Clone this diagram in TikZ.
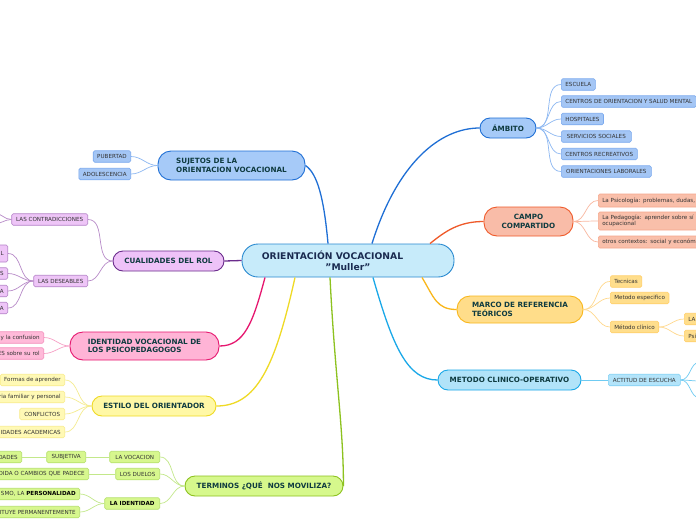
\documentclass[tikz,border=0pt]{standalone}
\usepackage{fontspec}
\setmainfont{DejaVu Sans}
\definecolor{centfill}{HTML}{C7EBFA}
\definecolor{centdraw}{HTML}{2A8AD0}
\definecolor{centtext}{HTML}{1A2B50}
\definecolor{maintext}{HTML}{0F3B40}
\definecolor{leaftext}{HTML}{333333}
\definecolor{bluefill}{HTML}{A6CAF8}
\definecolor{bluedraw}{HTML}{1F6FD5}
\definecolor{blueleaf}{HTML}{A4C6F5}
\definecolor{blueleafd}{HTML}{7AA9EE}
\definecolor{bluelink}{HTML}{8DB8F2}
\definecolor{orfill}{HTML}{F9BCA8}
\definecolor{ordraw}{HTML}{EF5A2A}
\definecolor{orleaf}{HTML}{F9BFAA}
\definecolor{orleafd}{HTML}{F6A78C}
\definecolor{orlink}{HTML}{F9B8A0}
\definecolor{yefill}{HTML}{FFDD8A}
\definecolor{yedraw}{HTML}{F9B71C}
\definecolor{yeleaf}{HTML}{FFDE8C}
\definecolor{yeleafd}{HTML}{FFCF6A}
\definecolor{yelink}{HTML}{FFD98E}
\definecolor{cyfill}{HTML}{B1E3F9}
\definecolor{cydraw}{HTML}{1AA8E8}
\definecolor{cyleaf}{HTML}{B3E4FA}
\definecolor{cyleafd}{HTML}{7FD0F4}
\definecolor{cylink}{HTML}{6FCBF2}
\definecolor{pufill}{HTML}{EEC2F8}
\definecolor{pudraw}{HTML}{6B2C8C}
\definecolor{puleaf}{HTML}{EEC5F7}
\definecolor{puleafd}{HTML}{B582C8}
\definecolor{pulink}{HTML}{B88BC8}
\definecolor{pkfill}{HTML}{FFB4D6}
\definecolor{pkdraw}{HTML}{E6176F}
\definecolor{pkleaf}{HTML}{FFBAD9}
\definecolor{pkleafd}{HTML}{F48DBB}
\definecolor{pklink}{HTML}{F7A0C6}
\definecolor{ylfill}{HTML}{FFF8A6}
\definecolor{yldraw}{HTML}{EFDA25}
\definecolor{ylleaf}{HTML}{FFF9B5}
\definecolor{ylleafd}{HTML}{F8EC8E}
\definecolor{yllink}{HTML}{F5EC90}
\definecolor{grfill}{HTML}{D6F88C}
\definecolor{grdraw}{HTML}{8DC21F}
\definecolor{grleaf}{HTML}{D7F78E}
\definecolor{grleafd}{HTML}{B5E06A}
\definecolor{grlink}{HTML}{C3E88A}
\begin{document}
\begin{tikzpicture}[x=1pt,y=-1pt,
  mainbox/.style={draw, line width=0.9pt, inner sep=0pt, font=\bfseries\fontsize{7.2}{8.6}\selectfont, text=maintext, align=left},
  leaf/.style={draw, line width=0.6pt, rounded corners=1.5pt, inner xsep=4pt, inner ysep=0pt, minimum height=11.5pt, font=\fontsize{5.6}{6.6}\selectfont, text=leaftext},
  leftcut/.style={text width=#1, align=right},
  rightcut/.style={text width=#1, align=left},
  mlink/.style={line width=1.3pt},
  clink/.style={line width=0.7pt},
  bleaf/.style={leaf, fill=blueleaf, draw=blueleafd},
  oleaf/.style={leaf, fill=orleaf, draw=orleafd},
  yleaf/.style={leaf, fill=yeleaf, draw=yeleafd},
  cleaf/.style={leaf, fill=cyleaf, draw=cyleafd},
  pleaf/.style={leaf, fill=puleaf, draw=puleafd},
  kleaf/.style={leaf, fill=pkleaf, draw=pkleafd},
  lleaf/.style={leaf, fill=ylleaf, draw=ylleafd},
  gleaf/.style={leaf, fill=grleaf, draw=grleafd}
]
\useasboundingbox[fill=white] (0,0) rectangle (696,520);

% central
\node[mainbox, fill=centfill, draw=centdraw, minimum width=212pt, minimum height=33pt, rounded corners=16pt, font=\bfseries\fontsize{9.2}{10.6}\selectfont, text=centtext, align=center] (c) at (348,260.5) {ORIENTACIÓN VOCACIONAL\hspace*{31pt}\\\symbol{34}Muller\symbol{34}};

% main nodes
\node[mainbox, fill=bluefill, draw=bluedraw, minimum width=56pt, minimum height=20pt, rounded corners=10pt] (amb) at (508,128) {ÁMBITO};
\node[mainbox, fill=bluefill, draw=bluedraw, minimum width=147pt, minimum height=29pt, rounded corners=13pt] (suj) at (231.5,165.5) {SUJETOS DE LA\\ORIENTACION VOCACIONAL};
\node[mainbox, fill=orfill, draw=ordraw, minimum width=89pt, minimum height=29pt, rounded corners=13pt, align=center] (cam) at (528.5,221.5) {CAMPO\\COMPARTIDO};
\node[mainbox, fill=yefill, draw=yedraw, minimum width=126pt, minimum height=27pt, rounded corners=13pt] (mar) at (520,309.5) {MARCO DE REFERENCIA\\TEÓRICOS};
\node[mainbox, fill=cyfill, draw=cydraw, minimum width=143pt, minimum height=20pt, rounded corners=10pt] (met) at (509.5,380) {METODO CLINICO-OPERATIVO};
\node[mainbox, fill=pufill, draw=pudraw, minimum width=111pt, minimum height=20pt, rounded corners=10pt] (cua) at (168.5,261) {CUALIDADES DEL ROL};
\node[mainbox, fill=pkfill, draw=pkdraw, minimum width=149pt, minimum height=28pt, rounded corners=13pt] (ide) at (144.5,346) {IDENTIDAD VOCACIONAL DE\\LOS PSICOPEDAGOGOS};
\node[mainbox, fill=ylfill, draw=yldraw, minimum width=124pt, minimum height=20pt, rounded corners=10pt] (est) at (154,406) {ESTILO DEL ORIENTADOR};
\node[mainbox, fill=grfill, draw=grdraw, minimum width=158pt, minimum height=20pt, rounded corners=10pt] (ter) at (264,486) {TERMINOS ¿QUÉ\ \ NOS MOVILIZA?};

% main links
\draw[mlink, bluedraw] ([xshift=24pt]c.north) .. controls +(25,-80) and +(-40,0) .. (amb.west);
\draw[mlink, bluedraw] ([xshift=-20pt]c.north) .. controls +(-4,-45) and +(12,8) .. (suj.east);
\draw[mlink, ordraw] ([xshift=82pt]c.north) .. controls +(15,-12) and +(-25,0) .. (cam.west);
\draw[mlink, yedraw] ([xshift=74pt]c.south) .. controls +(12,20) and +(-20,0) .. (mar.west);
\draw[mlink, cydraw] ([xshift=25pt]c.south) .. controls +(20,70) and +(-30,0) .. (met.west);
\draw[mlink, pudraw] (c.west) -- (cua.east);
\draw[mlink, pkdraw] ([xshift=-83pt]c.south) .. controls +(-12,45) and +(25,0) .. (ide.east);
\draw[mlink, yldraw] ([xshift=-53pt]c.south) .. controls +(-20,90) and +(40,0) .. (est.east);
\draw[mlink, grdraw] ([xshift=-18pt]c.south) .. controls +(5,100) and +(0,-60) .. (ter.east);

% AMBITO leaves
\node[bleaf, anchor=west, minimum width=34pt] (a1) at (561,84.5) {ESCUELA};
\node[bleaf, anchor=west, minimum width=135pt] (a2) at (561,101.5) {CENTROS DE ORIENTACION Y SALUD MENTAL};
\node[bleaf, anchor=west, minimum width=42pt] (a3) at (561,119) {HOSPITALES};
\node[bleaf, anchor=west, minimum width=70pt] (a4) at (561,136.5) {SERVICIOS SOCIALES};
\node[bleaf, anchor=west, minimum width=76pt] (a5) at (561,154) {CENTROS RECREATIVOS};
\node[bleaf, anchor=west, minimum width=90pt] (a6) at (561,171.5) {ORIENTACIONES LABORALES};
\foreach \n in {a1,a2,a3,a4,a5,a6}
  \draw[clink, bluelink] (amb.east) to[out=0,in=180] (\n.west);

% SUJETOS leaves
\node[bleaf, anchor=east, minimum width=37pt] (s1) at (131,156.5) {PUBERTAD};
\node[bleaf, anchor=east, minimum width=51pt] (s2) at (131,174) {ADOLESCENCIA};
\foreach \n in {s1,s2}
  \draw[clink, bluelink] (suj.west) to[out=180,in=0] (\n.east);

% CAMPO leaves
\node[oleaf, anchor=west, minimum height=13pt, rightcut=150pt] (o1) at (598,200.5) {La Psicología: problemas, dudas,};
\node[oleaf, anchor=west, minimum height=18pt, rightcut=150pt] (o2) at (598,221) {La Pedagogía: aprender sobre sí mismo\\ocupacional};
\node[oleaf, anchor=west, minimum height=12pt, rightcut=150pt] (o3) at (598,242) {otros contextos: social y económico};
\foreach \n in {o1,o2,o3}
  \draw[clink, orlink] (cam.east) to[out=0,in=180] (\n.west);

% MARCO leaves
\node[yleaf, anchor=west, minimum width=31pt] (m1) at (610,281.5) {Tecnicas};
\node[yleaf, anchor=west, minimum width=57pt] (m2) at (610,298) {Metodo especifico};
\node[yleaf, anchor=west, minimum width=47pt] (m3) at (610,327) {Método clínico};
\foreach \n in {m1,m2,m3}
  \draw[clink, yelink] (mar.east) to[out=0,in=180] (\n.west);
\node[yleaf, anchor=west, rightcut=30pt] (m4) at (684,319) {LA};
\node[yleaf, anchor=west, rightcut=30pt] (m5) at (684,336) {Psi};
\foreach \n in {m4,m5}
  \draw[clink, yelink] (m3.east) to[out=0,in=180] (\n.west);

% METODO leaves
\node[cleaf, anchor=west, minimum width=72pt] (k1) at (608,380) {ACTITUD DE ESCUCHA};
\draw[clink, cylink] (met.east) -- (k1.west);
\coordinate (k2) at (700,362);
\coordinate (k3) at (700,381);
\coordinate (k4) at (700,398);
\foreach \n in {k2,k3,k4}
  \draw[clink, cylink] (k1.east) to[out=0,in=180] (\n);

% CUALIDADES leaves
\node[pleaf, anchor=east, minimum width=76pt] (p1) at (88,219.5) {LAS CONTRADICCIONES};
\node[pleaf, anchor=east, minimum width=54pt] (p2) at (88,281) {LAS DESEABLES};
\foreach \n in {p1,p2}
  \draw[clink, pulink] (cua.west) to[out=180,in=0] (\n.east);
\coordinate (p1a) at (-6,213);
\coordinate (p1b) at (-6,224);
\foreach \n in {p1a,p1b}
  \draw[clink, pulink] (p1.west) to[out=180,in=0] (\n);
\node[pleaf, anchor=east, minimum height=17pt, leftcut=30pt] (p3) at (8,253.5) {L};
\node[pleaf, anchor=east, leftcut=30pt] (p4) at (8,273.5) {S};
\node[pleaf, anchor=east, leftcut=30pt] (p5) at (8,291) {A};
\node[pleaf, anchor=east, leftcut=30pt] (p6) at (8,308) {A};
\foreach \n in {p3,p4,p5,p6}
  \draw[clink, pulink] (p2.west) to[out=180,in=0] (\n.east);

% IDENTIDAD leaves
\node[kleaf, anchor=east, leftcut=60pt] (i1) at (44,337.5) {y la confusion};
\node[kleaf, anchor=east, leftcut=60pt] (i2) at (44,353.5) {ES sobre su rol};
\foreach \n in {i1,i2}
  \draw[clink, pklink] (ide.west) to[out=180,in=0] (\n.east);

% ESTILO leaves
\node[lleaf, anchor=east, minimum width=64pt] (e1) at (65,380) {Formas de aprender};
\node[lleaf, anchor=east, leftcut=80pt] (e2) at (65,397) {ria familiar y personal};
\node[lleaf, anchor=east, minimum width=45pt] (e3) at (65,414) {CONFLICTOS};
\node[lleaf, anchor=east, leftcut=80pt] (e4) at (65,432) {IDADES ACADEMICAS};
\foreach \n in {e1,e2,e3,e4}
  \draw[clink, yllink] (est.west) to[out=180,in=0] (\n.east);

% TERMINOS leaves
\node[gleaf, anchor=east, minimum width=50pt] (t1) at (160,457) {LA VOCACION};
\node[gleaf, anchor=east, minimum width=44pt] (t2) at (160,474) {LOS DUELOS};
\node[gleaf, anchor=east, minimum width=55pt, font=\bfseries\fontsize{5.6}{6.6}\selectfont, text=black] (t3) at (160,503.5) {LA IDENTIDAD};
\foreach \n in {t1,t2,t3}
  \draw[clink, grlink] (ter.west) to[out=180,in=0] (\n.east);
\node[gleaf, anchor=east, minimum width=39pt] (t4) at (86,457) {SUBJETIVA};
\node[gleaf, anchor=east, leftcut=40pt] (t5) at (22,457) {DADES};
\draw[clink, grlink] (t1.west) -- (t4.east);
\draw[clink, grlink] (t4.west) -- (t5.east);
\node[gleaf, anchor=east, leftcut=100pt] (t6) at (89,474) {DIDA O CAMBIOS QUE PADECE};
\draw[clink, grlink] (t2.west) -- (t6.east);
\node[gleaf, anchor=east, leftcut=100pt] (t7) at (80,494) {SMO, LA \textbf{\color{black}PERSONALIDAD}};
\node[gleaf, anchor=east, leftcut=100pt] (t8) at (80,512) {TITUYE PERMANENTEMENTE};
\foreach \n in {t7,t8}
  \draw[clink, grlink] (t3.west) to[out=180,in=0] (\n.east);
\end{tikzpicture}
\end{document}
